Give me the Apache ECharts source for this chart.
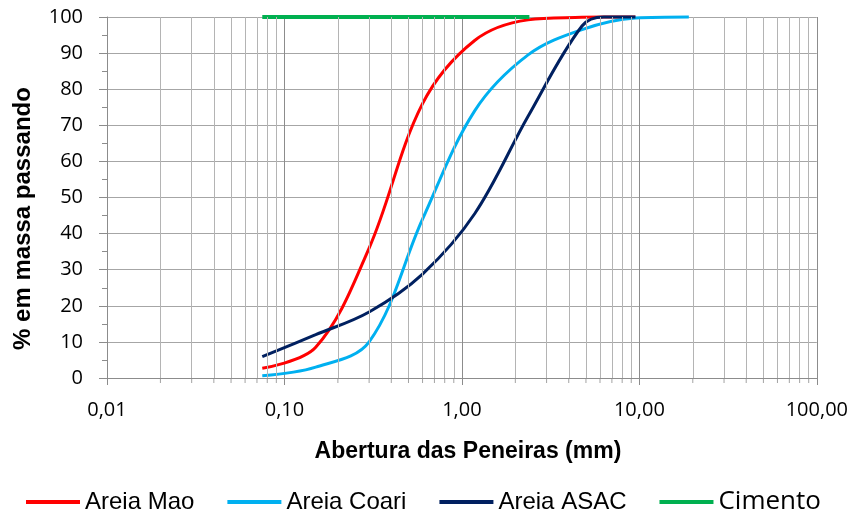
<!DOCTYPE html>
<html>
<head>
<meta charset="utf-8">
<script src="https://cdn.jsdelivr.net/npm/echarts@6/dist/echarts.min.js"></script>
<style>
  html, body { margin: 0; padding: 0; background: #fff; }
  #chart { width: 851px; height: 512px; }
</style>
</head>
<body>
<div id="chart"></div>
<script>
// aberturas das peneiras (mm)
const peneiras = [0.075, 0.15, 0.3, 0.6, 1.18, 2.36, 4.75, 6.3, 9.5]
const peneirasCoari = [0.075, 0.15, 0.3, 0.6, 1.18, 2.36, 4.75, 9.5, 19]

const areiaMao = [2.7, 8.5, 36, 76, 93.5, 99.2, 99.9, 100, 100]
const areiaCoari = [0.6, 3, 10, 44, 74, 89.5, 96.5, 99.7, 100]
const areiaAsac = [5.9, 12, 18.3, 28.8, 45.5, 72.5, 97.5, 100, 100]

const cimentoX = [0.075, 2.4]
const cimentoY = [100, 100]

// linhas de grade secundarias (2..9 em cada decada)
const minorGrid = [
  0.02, 0.03, 0.04, 0.05, 0.06, 0.07, 0.08, 0.09,
  0.2, 0.3, 0.4, 0.5, 0.6, 0.7, 0.8, 0.9,
  2, 3, 4, 5, 6, 7, 8, 9,
  20, 30, 40, 50, 60, 70, 80, 90
]

const pairs = (xs, ys) => xs.map((x, i) => [x, ys[i]])

const myChart = echarts.init(document.getElementById('chart'))

const lineSeries = (name, data, color) => {
  return {
    name: name,
    type: 'line',
    data: data,
    smooth: 0.35,
    showSymbol: false,
    symbol: 'none',
    clip: false,
    z: 3,
    lineStyle: { color: color, width: 3 },
    itemStyle: { color: color }
  }
}

const option = {
  animation: false,
  grid: {
    left: 107,
    right: 34,
    top: 17,
    bottom: 134
  },
  legend: {
    left: 21,
    top: 484,
    itemWidth: 54,
    itemHeight: 4,
    itemGap: 33,
    icon: 'rect',
    textStyle: {
      fontFamily: 'Liberation Sans',
      fontSize: 24,
      color: '#000'
    },
    data: [
      { name: 'Areia Mao' },
      { name: 'Areia Coari' },
      { name: 'Areia ASAC' },
      { name: 'Cimento', textStyle: { fontSize: 26, fontFamily: 'Open Sans' } }
    ]
  },
  xAxis: {
    type: 'log',
    logBase: 10,
    min: 0.01,
    max: 100,
    name: 'Abertura das Peneiras (mm)',
    nameLocation: 'middle',
    nameGap: 62,
    nameTextStyle: {
      fontFamily: 'Liberation Sans',
      fontSize: 23,
      fontWeight: 'bold',
      color: '#000',
      padding: [0, 0, 0, 12]
    },
    axisLine: { show: true, lineStyle: { color: '#8c8c8c' } },
    axisTick: { show: true, length: 7, lineStyle: { color: '#8c8c8c' } },
    minorTick: { show: false },
    axisLabel: {
      fontFamily: 'Open Sans',
      fontSize: 20,
      color: '#000',
      margin: 22,
      formatter: (v) => v.toFixed(2).replace('.', ',')
    },
    splitLine: { show: true, lineStyle: { color: '#8c8c8c', width: 1 } }
  },
  yAxis: {
    type: 'value',
    min: 0,
    max: 100,
    interval: 10,
    name: '% em massa passando',
    nameLocation: 'middle',
    nameGap: 72,
    nameTextStyle: {
      fontFamily: 'Liberation Sans',
      fontSize: 24,
      fontWeight: 'bold',
      color: '#000',
      padding: [0, 42, 0, 0]
    },
    axisLine: { show: true, lineStyle: { color: '#8c8c8c' } },
    axisTick: { show: true, length: 8, lineStyle: { color: '#8c8c8c' } },
    minorTick: { show: true, splitNumber: 2, length: 5, lineStyle: { color: '#8c8c8c' } },
    axisLabel: {
      fontFamily: 'Open Sans',
      fontSize: 20,
      color: '#000',
      margin: 24
    },
    splitLine: { show: true, lineStyle: { color: '#a6a6a6', width: 1 } }
  },
  series: [
    {
      name: 'grade',
      type: 'line',
      data: [],
      silent: true,
      z: 1,
      markLine: {
        silent: true,
        symbol: 'none',
        animation: false,
        label: { show: false },
        lineStyle: { color: '#b4b4b4', width: 1, type: 'solid' },
        data: minorGrid.map((v) => [
          { coord: [v, 0] },
          { coord: [v, 100] }
        ])
      }
    },
    {
      // tracinhos secundarios abaixo do eixo x
      name: 'ticks',
      type: 'scatter',
      data: minorGrid.map((v) => [v, 0]),
      silent: true,
      clip: false,
      z: 2,
      symbol: 'rect',
      symbolSize: [1, 4],
      symbolOffset: [0, 3],
      itemStyle: { color: '#8c8c8c' }
    },
    lineSeries('Areia Mao', pairs(peneiras, areiaMao), '#ff0000'),
    lineSeries('Areia Coari', pairs(peneirasCoari, areiaCoari), '#00b0f0'),
    lineSeries('Areia ASAC', pairs(peneiras, areiaAsac), '#002060'),
    {
      name: 'Cimento',
      type: 'line',
      data: pairs(cimentoX, cimentoY),
      showSymbol: false,
      symbol: 'none',
      clip: false,
      z: 3,
      lineStyle: { color: '#00b050', width: 4 },
      itemStyle: { color: '#00b050' }
    }
  ]
}

myChart.setOption(option)
</script>
</body>
</html>
